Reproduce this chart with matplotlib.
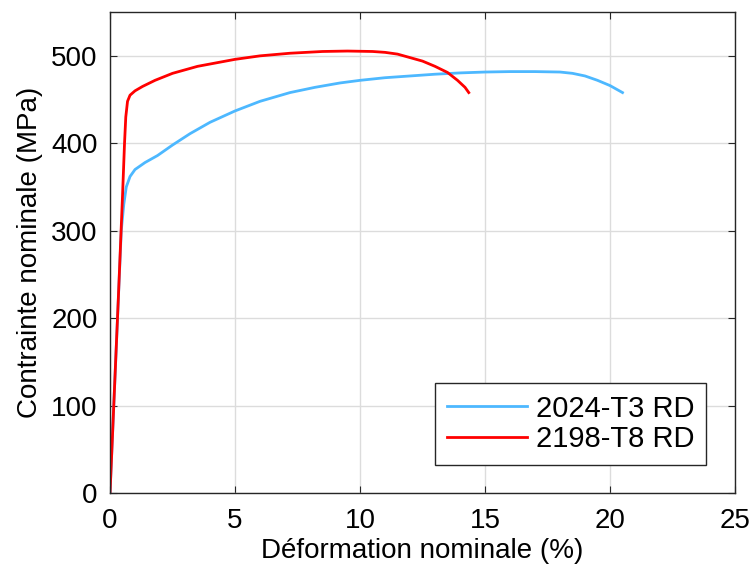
import matplotlib
matplotlib.use("Agg")
import matplotlib.pyplot as plt

plt.rcParams['font.family'] = ['Liberation Sans', 'DejaVu Sans']

# 2024-T3 RD
strain_2024 = [0, 0.45, 0.55, 0.65, 0.8, 1.0, 1.4, 1.9, 2.5, 3.2, 4.0, 5.0, 6.0,
               7.2, 8.2, 9.2, 10.0, 11.0, 12.0, 13.0, 14.0, 15.0, 16.0, 17.0,
               18.0, 18.5, 19.0, 19.5, 20.0, 20.5]
stress_2024 = [0, 300, 330, 350, 362, 370, 378, 386, 398, 411, 424, 437, 448,
               458, 464, 469, 472, 475, 477, 479, 480.5, 481.5, 482, 482,
               481.5, 480, 477, 472, 466, 458]

# 2198-T8 RD
strain_2198 = [0, 0.33, 0.5, 0.58, 0.63, 0.7, 0.8, 1.0, 1.3, 1.8, 2.5, 3.5, 5.0,
               6.0, 7.2, 8.5, 9.5, 10.5, 11.0, 11.5, 12.0, 12.5, 13.0, 13.5,
               13.9, 14.2, 14.35]
stress_2198 = [0, 221, 340, 400, 430, 448, 455, 460, 465, 472, 480, 488, 496,
               500, 503, 505, 505.5, 505, 504, 502, 498, 494, 488, 481,
               472, 464, 458]

fig = plt.figure(figsize=(7.5, 5.78), dpi=100)
ax = fig.add_axes([0.1467, 0.147, 0.8333, 0.832])

ax.plot(strain_2024, stress_2024, color='#4DB8FF', lw=2, label='2024-T3 RD')
ax.plot(strain_2198, stress_2198, color='#FF0000', lw=2, label='2198-T8 RD')

ax.set_xlim(0, 25)
ax.set_ylim(0, 550)
ax.set_xticks([0, 5, 10, 15, 20, 25])
ax.set_yticks([0, 100, 200, 300, 400, 500])
ax.grid(True, color='#dcdcdc', lw=1)
ax.set_axisbelow(True)
ax.tick_params(direction='in', top=True, right=True, length=5,
               labelsize=20, colors='#262626', labelcolor='black')
ax.tick_params(axis='x', pad=11)
ax.tick_params(axis='y', pad=9)
for s in ax.spines.values():
    s.set_color('#262626')
    s.set_linewidth(1)

ax.set_xlabel('Déformation nominale (%)', fontsize=20, labelpad=3)
ax.set_ylabel('Contrainte nominale (MPa)', fontsize=20, labelpad=6)

leg = ax.legend(loc='lower right', bbox_to_anchor=(0.954, 0.058),
                borderaxespad=0, fontsize=21, handlelength=2.75,
                handletextpad=0.3, labelspacing=0.1, borderpad=0.4,
                fancybox=False, framealpha=1, edgecolor='#262626')
leg.get_frame().set_linewidth(1)

fig.savefig('out.png', dpi=100)
